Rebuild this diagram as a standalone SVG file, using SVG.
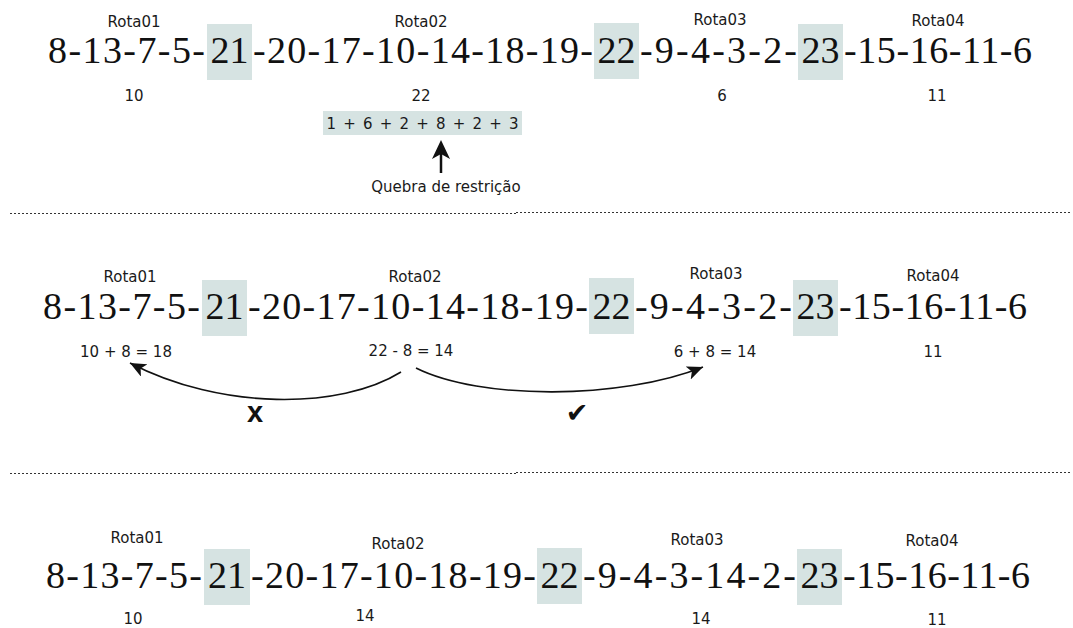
<svg xmlns="http://www.w3.org/2000/svg" width="1073" height="628" viewBox="0 0 1073 628">
  <style>
    .big { font-family: "Liberation Serif", "DejaVu Serif", serif; font-size: 38px; fill: #111; font-variant-numeric: oldstyle-nums; }
    .mid { text-anchor: middle; }
    .lbl { font-family: "DejaVu Sans", Verdana, sans-serif; font-size: 15px; fill: #1a1a1a; text-anchor: middle; }
    .hl { fill: #d6e3e2; }
    .dot { stroke: #333; stroke-width: 1.2; stroke-dasharray: 2 2; fill: none; }
    .curve { stroke: #111; stroke-width: 1.6; fill: none; marker-end: url(#head); }
  </style>
  <defs>
    <marker id="head" markerUnits="userSpaceOnUse" markerWidth="18" markerHeight="16" refX="16" refY="7" orient="auto">
      <path d="M0,0 L16,7 L0,14 L4,7 Z" fill="#111"/>
    </marker>
  </defs>
  <rect width="1073" height="628" fill="#fff"/>

  <!-- Row 1 -->
  <g id="row1">
    <rect class="hl" x="207" y="24" width="45" height="56"/>
    <rect class="hl" x="594" y="23" width="45" height="56"/>
    <rect class="hl" x="798" y="24" width="45" height="56"/>
    <text class="big" x="48" y="63" textLength="157">8-13-7-5-</text>
    <text class="big mid" x="229.5" y="63">21</text>
    <text class="big" x="253" y="63" textLength="340">-20-17-10-14-18-19-</text>
    <text class="big mid" x="616.5" y="63">22</text>
    <text class="big" x="640" y="63" textLength="157">-9-4-3-2-</text>
    <text class="big mid" x="820.5" y="63">23</text>
    <text class="big" x="844" y="63" textLength="188">-15-16-11-6</text>
    <text class="lbl" x="134" y="27">Rota01</text>
    <text class="lbl" x="421" y="27">Rota02</text>
    <text class="lbl" x="720" y="25">Rota03</text>
    <text class="lbl" x="938" y="26">Rota04</text>
    <text class="lbl" x="134" y="101">10</text>
    <text class="lbl" x="421" y="101">22</text>
    <text class="lbl" x="722" y="101">6</text>
    <text class="lbl" x="937" y="101">11</text>
  </g>
  <g id="sum">
    <rect class="hl" x="323" y="111" width="199" height="24"/>
    <text class="lbl" x="422.5" y="129" textLength="192">1 + 6 + 2 + 8 + 2 + 3</text>
  </g>
  <g id="note">
    <text class="lbl" x="446" y="192">Quebra de restrição</text>
  </g>

  <!-- Row 2 -->
  <g id="row2">
    <rect class="hl" x="202" y="280" width="45" height="56"/>
    <rect class="hl" x="589" y="278" width="45" height="56"/>
    <rect class="hl" x="793" y="280" width="45" height="56"/>
    <text class="big" x="43" y="319" textLength="157">8-13-7-5-</text>
    <text class="big mid" x="224.5" y="319">21</text>
    <text class="big" x="248" y="319" textLength="340">-20-17-10-14-18-19-</text>
    <text class="big mid" x="611.5" y="319">22</text>
    <text class="big" x="635" y="319" textLength="157">-9-4-3-2-</text>
    <text class="big mid" x="815.5" y="319">23</text>
    <text class="big" x="839" y="319" textLength="188">-15-16-11-6</text>
    <text class="lbl" x="130" y="282">Rota01</text>
    <text class="lbl" x="415" y="282">Rota02</text>
    <text class="lbl" x="716" y="279">Rota03</text>
    <text class="lbl" x="933" y="281">Rota04</text>
    <text class="lbl" x="126" y="357">10 + 8 = 18</text>
    <text class="lbl" x="411" y="356">22 - 8 = 14</text>
    <text class="lbl" x="715" y="357">6 + 8 = 14</text>
    <text class="lbl" x="933" y="357">11</text>
  </g>
  <g id="marks">
    <text x="255" y="422" font-family="'Liberation Sans', Arial, sans-serif" font-weight="bold" font-size="29" text-anchor="middle" fill="#111">x</text>
    <text x="577" y="422" font-family="'DejaVu Sans', sans-serif" font-size="27" text-anchor="middle" fill="#111">✔</text>
  </g>

  <!-- Row 3 -->
  <g id="row3">
    <rect class="hl" x="204" y="549" width="46" height="56"/>
    <rect class="hl" x="537" y="548" width="45" height="56"/>
    <rect class="hl" x="797" y="549" width="45" height="56"/>
    <text class="big" x="46" y="588" textLength="156">8-13-7-5-</text>
    <text class="big mid" x="227" y="588">21</text>
    <text class="big" x="251" y="588" textLength="285">-20-17-10-18-19-</text>
    <text class="big mid" x="559.5" y="588">22</text>
    <text class="big" x="583" y="588" textLength="213">-9-4-3-14-2-</text>
    <text class="big mid" x="819.5" y="588">23</text>
    <text class="big" x="843" y="588" textLength="187">-15-16-11-6</text>
    <text class="lbl" x="137" y="543">Rota01</text>
    <text class="lbl" x="398" y="549">Rota02</text>
    <text class="lbl" x="697" y="545">Rota03</text>
    <text class="lbl" x="932" y="546">Rota04</text>
    <text class="lbl" x="133" y="624">10</text>
    <text class="lbl" x="365" y="621">14</text>
    <text class="lbl" x="701" y="624">14</text>
    <text class="lbl" x="937" y="625">11</text>
  </g>

  <!-- Connectors -->
  <g id="connectors">
    <line x1="441" y1="173" x2="441" y2="152" stroke="#111" stroke-width="2.5"/>
    <path d="M441,140 L450,159 L441,154 L432,159 Z" fill="#111"/>
    <path class="curve" d="M401,372 C340,410 220,410 130,363"/>
    <path class="curve" d="M416,368 C480,400 620,400 703,367"/>
    <line class="dot" x1="10" y1="213.5" x2="516" y2="213.5"/>
    <line class="dot" x1="516" y1="212.5" x2="1070" y2="212.5"/>
    <line class="dot" x1="10" y1="473.5" x2="516" y2="473.5"/>
    <line class="dot" x1="516" y1="472.5" x2="1070" y2="472.5"/>
  </g>
</svg>
